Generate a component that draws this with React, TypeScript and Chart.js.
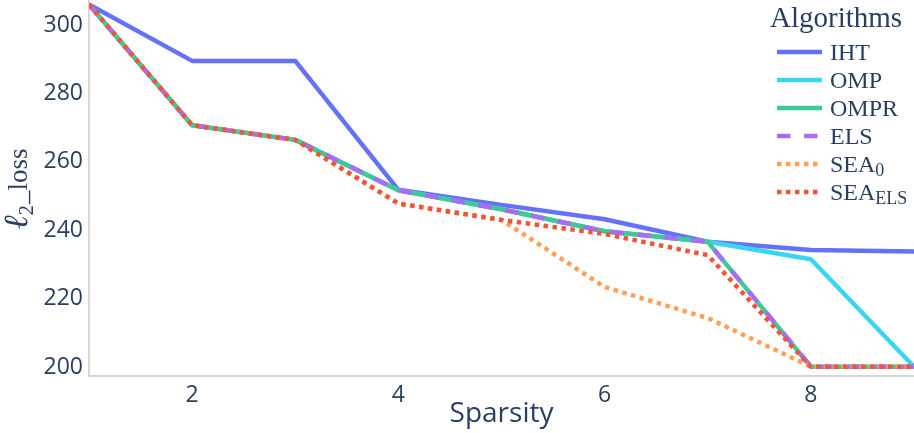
import React, { useEffect, useRef } from "react";
import { Chart, registerables } from "chart.js";

Chart.register(...registerables);

// ---- data ----
const sparsity = [1, 2, 3, 4, 5, 6, 7, 8, 9];
const ihtLoss = [306.0, 289.5, 289.5, 251.8, 247.4, 243.2, 236.6, 234.2, 233.8];
const ompLoss = [306.0, 270.7, 266.4, 251.7, 246.1, 239.7, 236.6, 231.5, 200.1];
const omprLoss = [306.0, 270.7, 266.4, 251.7, 246.1, 239.7, 236.6, 200.1, 200.1];
const elsLoss = [306.0, 270.7, 266.4, 251.7, 246.1, 239.7, 236.6, 200.1, 200.1];
const sea0Loss = [306.0, 270.7, 266.4, 247.8, 243.0, 223.4, 214.3, 200.1, 200.1];
const seaElsLoss = [306.0, 270.7, 266.4, 247.8, 243.0, 238.9, 232.7, 200.1, 200.1];

const xTickValues = [2, 4, 6, 8];
const yTickValues = [200, 220, 240, 260, 280, 300];

const seriesNames = ["IHT", "OMP", "OMPR", "ELS", "SEA", "SEA"];
const seriesSubs = ["", "", "", "", "0", "ELS"];
const seriesColors = ["#6372f8", "#3dd3f3", "#3dca97", "#a96cf7", "#ffa15a", "#ef553b"];
const seriesData = [ihtLoss, ompLoss, omprLoss, elsLoss, sea0Loss, seaElsLoss];
const seriesStyle = ["solid", "solid", "solid", "dash", "dot", "dot"];

const legendTitle = "Algorithms";
const xTitle = "Sparsity";

const LW = 4.5;
const TICK_FONT = "'Open Sans', verdana, arial, sans-serif";
const SERIF = "'Liberation Serif', 'Times New Roman', 'DejaVu Serif', serif";
const TEXT_COLOR = "#2a3f5f";

function dashFor(style: string): number[] {
  if (style === "dash") return [3 * LW, 3 * LW];
  if (style === "dot") return [LW, LW];
  return [];
}

export default function App() {
  const ref = useRef<HTMLCanvasElement | null>(null);

  useEffect(() => {
    const canvas = ref.current;
    if (!canvas) return;
    const datasets = seriesData.map((vals, i) => ({
      label: seriesNames[i] + seriesSubs[i],
      data: vals.map((v, j) => ({ x: sparsity[j], y: v })),
      borderColor: seriesColors[i],
      backgroundColor: seriesColors[i],
      borderWidth: LW,
      borderDash: dashFor(seriesStyle[i]),
      borderJoinStyle: "round" as const,
      pointRadius: 0,
      tension: 0,
      fill: false,
      order: seriesData.length - i,
    }));

    const chart = new Chart(canvas, {
      type: "line",
      data: { datasets },
      options: {
        responsive: false,
        animation: false,
        events: [],
        layout: { padding: 0 },
        plugins: {
          legend: { display: false },
          tooltip: { enabled: false },
          title: { display: false },
        },
        scales: {
          x: {
            type: "linear",
            min: 1,
            max: 9,
            grid: { display: false, drawTicks: false, tickLength: 0 },
            border: { display: true, color: "#d6d6d6", width: 2 },
            ticks: {
              font: { family: TICK_FONT, size: 23 },
              color: TEXT_COLOR,
              padding: 6,
              maxRotation: 0,
              autoSkip: false,
            },
            title: {
              display: true,
              text: xTitle,
              font: { family: TICK_FONT, size: 28 },
              color: TEXT_COLOR,
              padding: { top: 0, bottom: 2 },
            },
            afterBuildTicks: (s: any) => {
              s.ticks = xTickValues.map((v) => ({ value: v }));
            },
            afterFit: (s: any) => {
              s.height = 57;
              s.paddingLeft = 0;
              s.paddingRight = 0;
              s.paddingTop = 0;
              s.paddingBottom = 0;
            },
          },
          y: {
            type: "linear",
            min: 197.37,
            max: 307.3,
            grid: { display: false, drawTicks: false, tickLength: 0 },
            border: { display: true, color: "#d6d6d6", width: 2 },
            ticks: {
              font: { family: TICK_FONT, size: 23 },
              color: TEXT_COLOR,
              padding: 6,
              autoSkip: false,
            },
            afterBuildTicks: (s: any) => {
              s.ticks = yTickValues.map((v) => ({ value: v }));
            },
            afterFit: (s: any) => {
              s.width = 89;
              s.paddingLeft = 0;
              s.paddingRight = 0;
              s.paddingTop = 0;
              s.paddingBottom = 0;
            },
          },
        },
      },
    } as any);
    return () => chart.destroy();
  }, []);

  const rowY0 = 52;
  const rowStep = 28;

  return (
    <div style={{ position: "absolute", left: 0, top: 0, width: 914, height: 433, background: "#fff", overflow: "hidden" }}>
      <canvas ref={ref} width={914} height={433} style={{ position: "absolute", left: 0, top: 0, width: 914, height: 433 }} />
      <svg
        width={914}
        height={433}
        style={{ position: "absolute", left: 0, top: 0, pointerEvents: "none" }}
      >
        {/* y-axis title */}
        <g transform="translate(27,189) rotate(-90)">
          <text x={0} y={0} textAnchor="middle" fill={TEXT_COLOR} style={{ fontFamily: SERIF, fontSize: 27 }}>
            <tspan style={{ fontStyle: "italic", fontSize: 34 }}>ℓ</tspan>
            <tspan dy={6} style={{ fontSize: 21 }}>2</tspan>
            <tspan dy={-6} dx={1}>_loss</tspan>
          </text>
        </g>
        {/* legend */}
        <text x={770} y={27} fill={TEXT_COLOR} style={{ fontFamily: SERIF, fontSize: 29 }}>
          {legendTitle}
        </text>
        {seriesNames.map((name, i) => {
          const y = rowY0 + i * rowStep;
          const d = dashFor(seriesStyle[i]);
          return (
            <g key={i}>
              <line
                x1={777}
                x2={822}
                y1={y}
                y2={y}
                stroke={seriesColors[i]}
                strokeWidth={LW}
                strokeDasharray={d.length ? d.join(",") : undefined}
              />
              <text x={830} y={y + 8} fill={TEXT_COLOR} style={{ fontFamily: SERIF, fontSize: 24 }}>
                {name}
                {seriesSubs[i] ? (
                  <tspan dy={4} style={{ fontSize: 18 }}>
                    {seriesSubs[i]}
                  </tspan>
                ) : null}
              </text>
            </g>
          );
        })}
      </svg>
    </div>
  );
}
